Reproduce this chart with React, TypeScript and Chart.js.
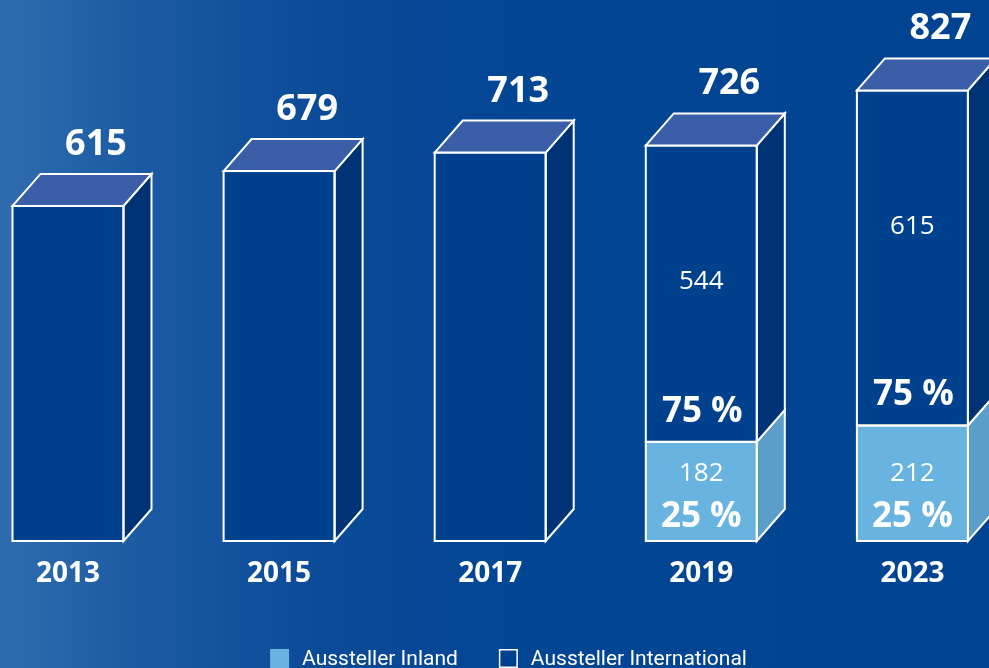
import { useEffect, useRef } from 'react';
import { Chart, registerables } from 'chart.js';

Chart.register(...registerables);

// ---- data ----
const years = ['2013', '2015', '2017', '2019', '2023'];
const totals = [615, 679, 713, 726, 827];
const totalOnly = [615, 679, 713, null, null];
const inland = [null, null, null, 182, 212];
const international = [null, null, null, 544, 615];
const inlandShare = [null, null, null, '25 %', '25 %'];
const internationalShare = [null, null, null, '75 %', '75 %'];
const legendLabels = ['Aussteller Inland', 'Aussteller International'];

// ---- style ----
const DARK = '#00418e';
const DARK_SIDE = '#003376';
const TOP = '#3a5ea7';
const LIGHT = '#68b3e0';
const LIGHT_SIDE = '#5b9ec9';
const DX = 28;
const DY = 32;
const NUM_FONT = '"Open Sans", "Noto Sans", sans-serif';

const bgPlugin = {
  id: 'bg',
  beforeDraw(chart: any) {
    const { ctx, width, height } = chart;
    ctx.save();
    const g = ctx.createLinearGradient(0, 0, width, 0);
    g.addColorStop(0, '#2f6daf');
    g.addColorStop(0.12, '#1e5da4');
    g.addColorStop(0.3, '#0c4c99');
    g.addColorStop(0.5, '#034693');
    g.addColorStop(1, '#004491');
    ctx.fillStyle = g;
    ctx.fillRect(0, 0, width, height);
    ctx.restore();
  },
};

const cubePlugin = {
  id: 'cube',
  afterDatasetsDraw(chart: any) {
    const ctx = chart.ctx;
    ctx.save();
    ctx.lineWidth = 2;
    ctx.strokeStyle = '#ffffff';
    ctx.lineJoin = 'miter';
    for (let i = 0; i < years.length; i++) {
      const segs: any[] = [];
      chart.data.datasets.forEach((ds: any, di: number) => {
        const v = ds.data[i] && ds.data[i].y;
        if (v == null) return;
        const el = chart.getDatasetMeta(di).data[i];
        if (!el) return;
        const p = el.getProps(['x', 'y', 'base', 'width'], true);
        segs.push({ ...p, side: ds.sideColor, key: ds.key });
      });
      segs.sort((a, b) => b.base - a.base);
      segs.forEach((s, si) => {
        const left = s.x - s.width / 2;
        const right = s.x + s.width / 2;
        const top = Math.min(s.y, s.base);
        const bottom = Math.max(s.y, s.base);
        // side face
        ctx.beginPath();
        ctx.moveTo(right, bottom);
        ctx.lineTo(right + DX, bottom - DY);
        ctx.lineTo(right + DX, top - DY);
        ctx.lineTo(right, top);
        ctx.closePath();
        ctx.fillStyle = s.side;
        ctx.fill();
        ctx.stroke();
        // front outline
        ctx.strokeRect(left, top, right - left, bottom - top);
        if (si === segs.length - 1) {
          ctx.beginPath();
          ctx.moveTo(left, top);
          ctx.lineTo(left + DX, top - DY);
          ctx.lineTo(right + DX, top - DY);
          ctx.lineTo(right, top);
          ctx.closePath();
          ctx.fillStyle = TOP;
          ctx.fill();
          ctx.stroke();
        }
      });
      if (!segs.length) continue;
      const topSeg = segs[segs.length - 1];
      const botSeg = segs[0];
      const cx = topSeg.x;
      ctx.fillStyle = '#ffffff';
      ctx.textAlign = 'center';
      ctx.textBaseline = 'alphabetic';
      // total
      ctx.font = `bold 36px ${NUM_FONT}`;
      ctx.fillText(String(totals[i]), cx + DX, Math.min(topSeg.y, topSeg.base) - DY - 19);
      if (inland[i] != null && international[i] != null) {
        const bottom = botSeg.base;
        const boundary = botSeg.y;
        const intlTop = topSeg.y;
        ctx.font = `26px ${NUM_FONT}`;
        ctx.fillText(String(international[i]), cx, intlTop + 144);
        ctx.fillText(String(inland[i]), cx, bottom - 60);
        ctx.font = `bold 35px ${NUM_FONT}`;
        ctx.fillText(String(internationalShare[i]), cx + 1, boundary - 20);
        ctx.fillText(String(inlandShare[i]), cx, bottom - 14);
      }
    }
    ctx.restore();
  },
};

const legendPlugin = {
  id: 'customLegend',
  afterDraw(chart: any) {
    const ctx = chart.ctx;
    ctx.save();
    ctx.font = '21px Roboto, sans-serif';
    ctx.textBaseline = 'alphabetic';
    ctx.textAlign = 'left';
    const box = 19;
    const gap = 13;
    const spacing = 41;
    const w0 = ctx.measureText(legendLabels[0]).width;
    const w1 = ctx.measureText(legendLabels[1]).width;
    const total = box + gap + w0 + spacing + box + gap + w1;
    let x = chart.width / 2 + 14 - total / 2;
    const y = 649;
    // inland
    ctx.fillStyle = LIGHT;
    ctx.fillRect(x, y, box, box);
    ctx.fillStyle = '#ffffff';
    ctx.fillText(legendLabels[0], x + box + gap, y + 16);
    x += box + gap + w0 + spacing;
    ctx.fillStyle = DARK;
    ctx.fillRect(x, y, box, box);
    ctx.lineWidth = 1.5;
    ctx.strokeStyle = '#ffffff';
    ctx.strokeRect(x + 0.75, y + 0.75, box - 1.5, box - 1.5);
    ctx.fillStyle = '#ffffff';
    ctx.fillText(legendLabels[1], x + box + gap, y + 16);
    ctx.restore();
  },
};

export default function App() {
  const ref = useRef<HTMLCanvasElement | null>(null);
  useEffect(() => {
    if (!ref.current) return;
    const pts = (arr: (number | null)[]) => arr.map((v, i) => ({ x: i, y: v }));
    const chart = new Chart(ref.current, {
      type: 'bar',
      data: {
        datasets: [
          { key: 'inland', label: legendLabels[0], data: pts(inland), backgroundColor: LIGHT, sideColor: LIGHT_SIDE, borderWidth: 0, barThickness: 111 } as any,
          { key: 'intl', label: legendLabels[1], data: pts(international), backgroundColor: DARK, sideColor: DARK_SIDE, borderWidth: 0, barThickness: 111 } as any,
          { key: 'total', label: 'Aussteller gesamt', data: pts(totalOnly), backgroundColor: DARK, sideColor: DARK_SIDE, borderWidth: 0, barThickness: 111 } as any,
        ],
      },
      options: {
        animation: false,
        responsive: false,
        maintainAspectRatio: false,
        layout: { padding: 0 },
        plugins: { legend: { display: false }, tooltip: { enabled: false } },
        scales: {
          x: {
            type: 'linear',
            min: -0.3221,
            max: 4.3628,
            stacked: true,
            offset: false,
            grid: { display: false, drawTicks: false },
            border: { display: false },
            afterBuildTicks: (scale: any) => {
              scale.ticks = years.map((_, i) => ({ value: i }));
            },
            afterFit: (scale: any) => {
              scale.height = 127;
            },
            ticks: {
              padding: 16,
              color: '#ffffff',
              font: { family: NUM_FONT, weight: 'bold', size: 28, lineHeight: 1.2 },
              maxRotation: 0,
              autoSkip: false,
              callback: (v: any) => years[v as number] ?? '',
            },
          },
          y: { display: false, stacked: true, min: 0, max: 993 },
        },
      } as any,
      plugins: [bgPlugin, cubePlugin, legendPlugin],
    });
    return () => chart.destroy();
  }, []);
  return (
    <div style={{ position: 'fixed', left: 0, top: 0, width: 989, height: 668, overflow: 'hidden' }}>
      <canvas ref={ref} width={989} height={668} style={{ display: 'block', width: 989, height: 668 }} />
    </div>
  );
}
